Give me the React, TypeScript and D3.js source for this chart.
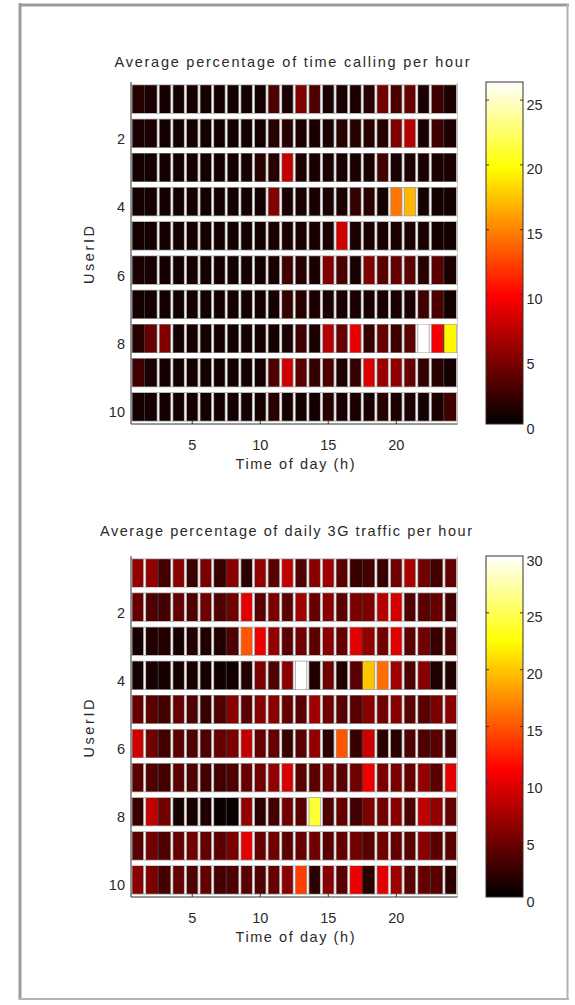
import React from 'react';
import * as d3 from 'd3';

// ---------- data ----------
const hours = [1, 2, 3, 4, 5, 6, 7, 8, 9, 10, 11, 12, 13, 14, 15, 16, 17, 18, 19, 20, 21, 22, 23, 24];
const userIds = [1, 2, 3, 4, 5, 6, 7, 8, 9, 10];
const xTicks = [5, 10, 15, 20];
const yTicks = [2, 4, 6, 8, 10];

const callTitle = 'Average percentage of time calling per hour';
const trafficTitle = 'Average percentage of daily 3G traffic per hour';
const xLabel = 'Time of day (h)';
const yLabel = 'UserID';

const callColorTicks = [0, 5, 10, 15, 20, 25];
const trafficColorTicks = [0, 5, 10, 15, 20, 25, 30];
const callMax = 26.4;
const trafficMax = 30;

// % of time calling, rows = users 1..10, cols = hours 1..24
const callPct = [
  [1.5, 1, 0.8, 0.8, 0.8, 0.8, 0.8, 0.8, 0.8, 0.8, 3, 1, 5, 3, 1, 1, 1, 1.5, 4.5, 3, 4, 1, 2.5, 1],
  [1, 1, 0.8, 0.8, 0.8, 0.8, 0.8, 0.8, 0.8, 0.8, 1.5, 1.5, 1.2, 1, 1, 1.5, 1.5, 1.5, 1.5, 5, 7, 1, 2.5, 1],
  [0.8, 0.8, 0.8, 0.8, 0.8, 0.8, 0.8, 0.8, 0.8, 1.5, 1.5, 7.5, 1.2, 1, 1, 1, 1, 1, 2.5, 1, 1, 1, 1, 1],
  [0.8, 0.8, 0.8, 0.8, 0.8, 0.8, 0.8, 0.8, 0.8, 0.8, 5, 1, 1, 1, 1, 1, 2, 1.5, 0.8, 14.5, 17, 0.8, 0.8, 0.8],
  [0.8, 0.8, 0.8, 0.8, 0.8, 0.8, 0.8, 0.8, 0.8, 0.8, 1, 1, 1, 1, 1, 8, 1, 1, 1, 1, 1, 1, 0.8, 0.8],
  [1, 1, 0.8, 0.8, 0.8, 0.8, 0.8, 0.8, 0.8, 0.8, 1, 2.5, 1.5, 1, 5, 3, 1, 5, 3.5, 4, 3.5, 1.5, 3.5, 1],
  [0.8, 0.8, 0.8, 0.8, 0.8, 0.8, 0.8, 0.8, 0.8, 0.8, 0.8, 2, 1.5, 1, 1, 1, 1, 1, 1, 1, 1, 2.5, 3, 0.8],
  [1.5, 4, 5, 0.8, 0.8, 0.8, 0.8, 0.8, 0.8, 0.8, 0.8, 1, 2.5, 1, 7, 4, 9, 2, 4, 2.5, 3.5, 26.4, 9.5, 19.5],
  [2.5, 1, 0.8, 0.8, 0.8, 0.8, 0.8, 0.8, 0.8, 0.8, 3, 8, 3.5, 2, 3, 1.2, 2, 8.5, 6, 5.5, 4, 2, 1.5, 0.8],
  [0.8, 0.8, 0.8, 0.8, 0.8, 0.8, 0.8, 0.8, 0.8, 0.8, 1.5, 0.8, 0.8, 0.8, 1.5, 1, 1, 1, 1.5, 1, 1, 0.8, 1, 2.5],
];

// % of daily 3G traffic, rows = users 1..10, cols = hours 1..24
const trafficPct = [
  [6.5, 6.5, 3, 6, 2.5, 5.5, 2.5, 6, 2, 6.5, 4, 8.5, 3.5, 6, 7, 4, 2.5, 3, 2.5, 5, 7.5, 5, 3, 4.5],
  [4.5, 3.5, 3, 4.5, 3.5, 5, 3.5, 5, 10, 4, 5.5, 4, 7, 4.5, 6, 4, 5.5, 5.5, 8, 9.5, 3.5, 4, 4.5, 3],
  [1, 1.5, 1.5, 1, 1.5, 1.5, 1.5, 3.5, 15, 10.5, 6.5, 4, 5, 4, 6, 4.5, 10, 6.5, 5, 10, 4, 5, 2.5, 3.5],
  [1, 1, 1, 1, 1, 1, 0.8, 0.8, 1.5, 5.5, 3.5, 6, 30, 1.5, 5, 1.5, 4, 20, 16, 7, 3.5, 6, 1.5, 1.5],
  [4.5, 4, 3, 4.5, 3.5, 2.5, 3.5, 6, 4, 6, 6, 4.5, 4, 7, 5, 4, 4, 6, 5, 6, 4, 4, 5.5, 6],
  [9, 5, 3, 4, 3.5, 3.5, 4.5, 5.5, 8.5, 4.5, 4.5, 2.5, 4, 6.5, 2, 15, 2.5, 9, 2, 2, 3.5, 3.5, 4, 3],
  [4, 3.5, 3, 4, 3.5, 3, 3, 3.5, 4.5, 5, 6.5, 9.5, 4, 4, 5, 4, 5, 10.5, 5.5, 5.5, 4.5, 6.5, 4, 10],
  [2.5, 8.5, 5, 1, 1, 1.5, 0.5, 0.5, 6.5, 2, 3, 5, 4, 24, 3.5, 4.5, 3, 5.5, 5, 6, 3.5, 8.5, 6.5, 4.5],
  [4, 5, 3.5, 4.5, 5, 4.5, 4, 5.5, 10, 4.5, 5, 4, 4.5, 5, 4, 4.5, 5, 4, 5, 4.5, 4, 6, 4, 4],
  [6, 5.5, 3, 4.5, 3.5, 4.5, 3, 3.5, 4, 3.5, 4.5, 6, 14, 2, 6, 4, 10.5, 2, 10, 7, 4, 4.5, 4, 2],
];

// ---------- helpers ----------
function hot(t: number): string {
  const v = Math.max(0, Math.min(1, t));
  const r = Math.min(1, v / 0.375);
  const g = Math.min(1, Math.max(0, (v - 0.375) / 0.375));
  const b = Math.min(1, Math.max(0, (v - 0.75) / 0.25));
  return d3.rgb(r * 255, g * 255, b * 255).formatHex();
}

const FONT = '"Liberation Sans", Arial, Helvetica, sans-serif';
const TXT = '#2a2a2a';
const FS = 14.5;

type PanelProps = {
  id: string;
  title: string;
  data: number[][];
  cmax: number;
  cticks: number[];
  axTop: number;
  axBottom: number;
  titleY: number;
  titleX: number;
  titleW: number;
  hiddenSeps: number[]; // column boundaries where separators vanish in the raster
};

function Panel(p: PanelProps) {
  const axLeft = 131;
  const axRight = 457.5;
  const cbLeft = 486;
  const cbRight = 523;
  const x = d3.scaleLinear().domain([0.5, 24.5]).range([axLeft, axRight]);
  const y = d3.scaleLinear().domain([0.5, 10.5]).range([p.axTop, p.axBottom]);
  const c = d3.scaleLinear().domain([0, p.cmax]).range([p.axBottom, p.axTop]);
  const colW = x(1.5) - x(0.5);
  const rowH = y(1.5) - y(0.5);

  const vBounds = d3.range(0, 25).map((k) => k + 0.5).filter((b) => !p.hiddenSeps.includes(b));
  const hBounds = d3.range(0, 11).map((k) => k + 0.5);
  const gradStops = d3.range(0, 65).map((i) => i / 64);

  return (
    <g>
      <defs>
        <clipPath id={`clip-${p.id}`}>
          <rect x={axLeft} y={p.axTop} width={axRight - axLeft} height={p.axBottom - p.axTop} />
        </clipPath>
        <linearGradient id={`grad-${p.id}`} x1="0" y1="1" x2="0" y2="0">
          {gradStops.map((s) => (
            <stop key={s} offset={s} stopColor={hot(s)} />
          ))}
        </linearGradient>
      </defs>

      {/* title */}
      <text
        x={p.titleX}
        y={p.titleY}
        textAnchor="middle"
        fontFamily={FONT}
        fontSize={FS}
        fill={TXT}
        textLength={p.titleW}
        lengthAdjust="spacing"
      >
        {p.title}
      </text>

      {/* cells */}
      <g clipPath={`url(#clip-${p.id})`}>
        {p.data.map((row, ri) =>
          row.map((v, ci) => (
            <rect
              key={`${ri}-${ci}`}
              x={x(hours[ci]) - colW / 2}
              y={y(userIds[ri]) - rowH / 2}
              width={colW}
              height={rowH}
              fill={hot(v / p.cmax)}
              stroke="#3a3a3a"
              strokeWidth={0.8}
            />
          ))
        )}
        {vBounds.map((b) => (
          <g key={`v${b}`}>
            <line x1={x(b)} x2={x(b)} y1={p.axTop} y2={p.axBottom} stroke="#9a9a9a" strokeWidth={3} />
            <line x1={x(b)} x2={x(b)} y1={p.axTop} y2={p.axBottom} stroke="#f4f4f4" strokeWidth={1.6} />
          </g>
        ))}
        {hBounds.map((b) => (
          <g key={`h${b}`}>
            <line x1={axLeft} x2={axRight} y1={y(b)} y2={y(b)} stroke="#a0a0a0" strokeWidth={6.4} />
            <line x1={axLeft} x2={axRight} y1={y(b)} y2={y(b)} stroke="#ffffff" strokeWidth={5} />
          </g>
        ))}
      </g>

      {/* axes */}
      <line x1={axLeft} x2={axLeft} y1={p.axTop} y2={p.axBottom} stroke="#333" strokeWidth={1} />
      <line x1={axLeft} x2={axRight} y1={p.axBottom} y2={p.axBottom} stroke="#333" strokeWidth={1} />
      {xTicks.map((t) => (
        <g key={`xt${t}`}>
          <line x1={x(t)} x2={x(t)} y1={p.axBottom} y2={p.axBottom - 3} stroke="#333" strokeWidth={1} />
          <text x={x(t)} y={p.axBottom + 25.5} textAnchor="middle" fontFamily={FONT} fontSize={FS} fill={TXT}>
            {t}
          </text>
        </g>
      ))}
      {yTicks.map((t) => (
        <text
          key={`yt${t}`}
          x={125}
          y={y(t) + 10.5}
          textAnchor="end"
          fontFamily={FONT}
          fontSize={FS}
          fill={TXT}
        >
          {t}
        </text>
      ))}
      <text
        x={295}
        y={p.axBottom + 45}
        textAnchor="middle"
        fontFamily={FONT}
        fontSize={FS}
        fill={TXT}
        textLength={119}
        lengthAdjust="spacing"
      >
        {xLabel}
      </text>
      <text
        transform={`translate(93.5, ${(p.axTop + p.axBottom) / 2 + 2}) rotate(-90)`}
        textAnchor="middle"
        fontFamily={FONT}
        fontSize={FS}
        fill={TXT}
        textLength={58}
        lengthAdjust="spacing"
      >
        {yLabel}
      </text>

      {/* colorbar */}
      <rect
        x={cbLeft}
        y={c(p.cmax)}
        width={cbRight - cbLeft}
        height={c(0) - c(p.cmax)}
        fill={`url(#grad-${p.id})`}
        stroke="#333"
        strokeWidth={1}
      />
      {p.cticks.map((t) => (
        <g key={`ct${t}`}>
          {t > 0 && t < p.cmax && (
            <>
              <line x1={cbLeft} x2={cbLeft + 3} y1={c(t)} y2={c(t)} stroke="#333" strokeWidth={1} />
              <line x1={cbRight} x2={cbRight - 3} y1={c(t)} y2={c(t)} stroke="#333" strokeWidth={1} />
            </>
          )}
          <text x={526.5} y={c(t) + 9.5} fontFamily={FONT} fontSize={FS} fill={TXT}>
            {t}
          </text>
        </g>
      ))}
    </g>
  );
}

export default function App() {
  return (
    <svg
      width={575}
      height={1005}
      viewBox="0 0 575 1005"
      style={{ position: 'absolute', left: 0, top: 0, display: 'block', background: '#fff' }}
    >
      <rect x={0} y={0} width={575} height={1005} fill="#ffffff" />
      {/* frame */}
      <line x1={20} x2={20} y1={3} y2={1000} stroke="#9c9c9c" strokeWidth={3} />
      <line x1={19} x2={569} y1={5} y2={5} stroke="#9c9c9c" strokeWidth={3} />
      <line x1={567.5} x2={567.5} y1={4} y2={1000} stroke="#b4b4b4" strokeWidth={2} />
      <line x1={19} x2={569} y1={999} y2={999} stroke="#b4b4b4" strokeWidth={2} />

      <Panel
        id="call"
        title={callTitle}
        data={callPct}
        cmax={callMax}
        cticks={callColorTicks}
        axTop={82}
        axBottom={424}
        titleY={67}
        titleX={292}
        titleW={355}
        hiddenSeps={[1.5, 23.5]}
      />
      <Panel
        id="traffic"
        title={trafficTitle}
        data={trafficPct}
        cmax={trafficMax}
        cticks={trafficColorTicks}
        axTop={556}
        axBottom={897}
        titleY={536}
        titleX={286}
        titleW={372}
        hiddenSeps={[2.5, 7.5, 17.5, 22.5]}
      />
    </svg>
  );
}
